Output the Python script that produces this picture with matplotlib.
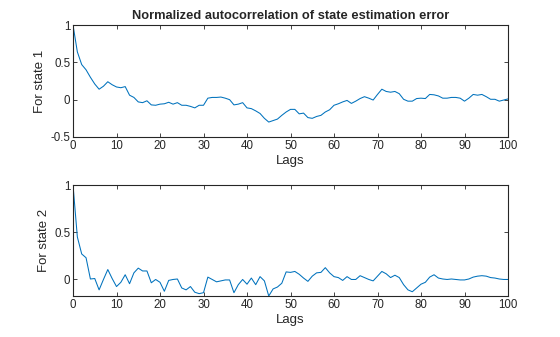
import numpy as np
import matplotlib
matplotlib.use("Agg")
import matplotlib.pyplot as plt

plt.rcParams['font.family'] = ['Liberation Sans', 'DejaVu Sans']

lags = np.arange(0, 101)

state1 = [1.0, 0.64, 0.47, 0.40, 0.30, 0.21, 0.14, 0.18, 0.24, 0.20,
          0.17, 0.16, 0.175, 0.06, 0.03, -0.03, -0.04, -0.015, -0.07, -0.075,
          -0.06, -0.055, -0.035, -0.06, -0.04, -0.075, -0.075, -0.09, -0.11, -0.075,
          -0.075, 0.02, 0.03, 0.03, 0.035, 0.02, 0.0, -0.07, -0.06, -0.04,
          -0.11, -0.12, -0.15, -0.185, -0.25, -0.30, -0.28, -0.26, -0.21, -0.165,
          -0.13, -0.13, -0.19, -0.18, -0.24, -0.25, -0.225, -0.21, -0.165, -0.135,
          -0.075, -0.055, -0.03, -0.01, -0.05, -0.02, 0.015, 0.04, 0.02, -0.005,
          0.07, 0.14, 0.11, 0.10, 0.11, 0.08, 0.005, -0.02, -0.02, 0.015,
          0.02, 0.015, 0.07, 0.065, 0.05, 0.02, 0.02, 0.03, 0.03, 0.02,
          -0.02, 0.02, 0.07, 0.06, 0.07, 0.04, 0.005, 0.005, -0.02, -0.005,
          0.01]

state2 = [1.0, 0.45, 0.27, 0.23, 0.005, 0.01, -0.11, 0.0, 0.105, 0.01,
          -0.075, -0.03, 0.05, -0.045, 0.07, 0.12, 0.09, 0.09, -0.035, 0.0,
          -0.03, -0.125, -0.01, 0.0, 0.005, -0.09, -0.11, -0.075, -0.135, -0.15,
          -0.14, 0.025, 0.0, -0.025, -0.015, -0.005, -0.005, -0.14, -0.055, 0.0,
          -0.05, 0.015, -0.055, 0.03, -0.015, -0.175, -0.1, -0.08, -0.04, 0.08,
          0.075, 0.085, 0.055, 0.015, -0.02, 0.035, 0.07, 0.075, 0.125, 0.07,
          0.03, 0.02, -0.01, 0.03, 0.0, 0.0, 0.04, 0.02, 0.0, -0.015,
          0.035, 0.085, 0.06, 0.02, 0.045, 0.02, -0.055, -0.11, -0.13, -0.09,
          -0.05, -0.03, 0.025, 0.05, 0.015, 0.005, 0.0, 0.005, 0.0, -0.005,
          -0.005, 0.005, 0.025, 0.035, 0.04, 0.035, 0.02, 0.015, 0.005, 0.0,
          0.0]

xticks = list(range(0, 101, 10))
title = "Normalized autocorrelation of state estimation error"
ylabels = ["For state 1", "For state 2"]

line_color = "#0072BD"
axis_color = "#262626"

fig = plt.figure(figsize=(5.6, 3.37), dpi=100)
ax1 = fig.add_axes([73/560, 1-137/337, 435/560, 112/337])
ax2 = fig.add_axes([73/560, 1-296/337, 435/560, 111/337])

for ax, data, yl in [(ax1, state1, ylabels[0]), (ax2, state2, ylabels[1])]:
    ax.plot(lags, data, color=line_color, linewidth=0.75)
    ax.set_xlim(0, 100)
    ax.set_xticks(xticks)
    ax.set_xlabel("Lags", fontsize=9.5, color=axis_color, labelpad=2)
    ax.set_ylabel(yl, fontsize=9.5, color=axis_color, labelpad=3)
    ax.tick_params(direction='in', length=3, width=0.6, labelsize=8.3,
                   colors=axis_color, top=True, right=True, pad=2)
    for s in ax.spines.values():
        s.set_color(axis_color)
        s.set_linewidth(0.8)

ax1.set_ylim(-0.5, 1)
ax1.set_yticks([-0.5, 0, 0.5, 1])
ax1.set_yticklabels(["-0.5", "0", "0.5", "1"])
ax1.set_title(title, fontsize=9.3, fontweight='bold', color=axis_color, pad=4)

ax2.set_ylim(min(state2), 1)
ax2.set_yticks([0, 0.5, 1])
ax2.set_yticklabels(["0", "0.5", "1"])

fig.savefig("out.png", dpi=100)
